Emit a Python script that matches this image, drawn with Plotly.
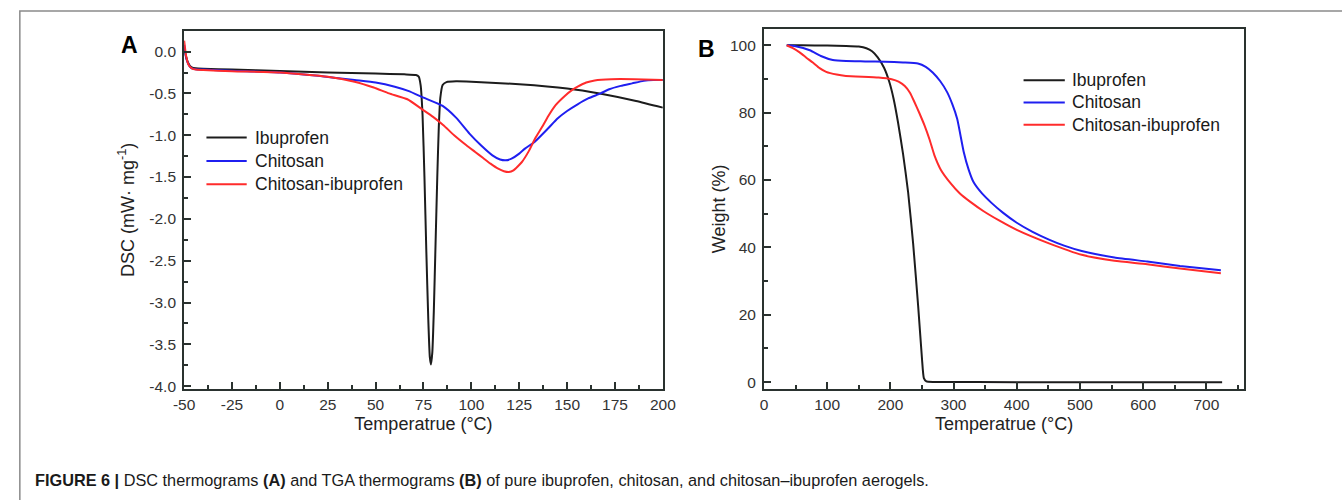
import plotly.graph_objects as go

W_PX, H_PX = 1342, 500

# ---------------- Panel A: DSC ----------------
dsc_T_ibu = [-50, -49, -48, -47, -46, -44, -40, -25, 0, 25, 50, 65, 71, 72.5, 73.5, 74.5,
             75.5, 76.5, 77.5, 78.3, 78.9, 79.6, 80.4, 81.3, 82.2, 83, 83.8, 85, 87, 92,
             100, 125, 150, 167, 186, 200]
dsc_ibu = [0.05, -0.06, -0.13, -0.17, -0.19, -0.2, -0.205, -0.215, -0.233, -0.25, -0.262,
           -0.272, -0.28, -0.3, -0.4, -0.75, -1.5, -2.4, -3.2, -3.65, -3.74, -3.6, -3.1,
           -2.3, -1.5, -0.9, -0.55, -0.4, -0.365, -0.355, -0.36, -0.39, -0.44, -0.5,
           -0.59, -0.67]

dsc_T_chi = [-50, -49, -48, -47, -46, -44, -40, -25, 0, 20, 39, 50, 60, 67, 75, 85, 92,
             99, 105, 111, 115, 118, 121, 125, 128, 133, 140, 145, 150, 155.5, 161,
             167.5, 172, 178, 184, 190, 195, 200]
dsc_chi = [0.08, -0.07, -0.14, -0.18, -0.2, -0.21, -0.215, -0.23, -0.25, -0.29, -0.34,
           -0.37, -0.42, -0.47, -0.55, -0.65, -0.79, -0.98, -1.12, -1.24, -1.29, -1.30,
           -1.28, -1.22, -1.16, -1.08, -0.92, -0.80, -0.71, -0.63, -0.56, -0.50, -0.45,
           -0.41, -0.38, -0.35, -0.34, -0.34]

dsc_T_mix = [-50, -49, -48, -47, -46, -44, -40, -25, 0, 25, 39, 49, 57, 66.6, 74.3, 80,
             85.4, 91, 97.4, 102, 106, 110, 114, 117, 119.6, 122, 126.4, 130, 133.3, 137,
             140.2, 144, 148.8, 152, 155.5, 160, 164.4, 173, 185, 200]
dsc_mix = [0.13, -0.05, -0.14, -0.18, -0.2, -0.215, -0.22, -0.235, -0.25, -0.3, -0.36,
           -0.43, -0.5, -0.57, -0.69, -0.78, -0.88, -1.0, -1.12, -1.2, -1.27, -1.34,
           -1.4, -1.43, -1.44, -1.42, -1.32, -1.19, -1.04, -0.9, -0.77, -0.64, -0.53,
           -0.47, -0.42, -0.37, -0.345, -0.33, -0.33, -0.34]

# ---------------- Panel B: TGA ----------------
tga_T_ibu = [36, 60, 100, 130, 150, 162, 171, 180, 190, 198, 205, 212, 220, 228, 236,
             244, 250, 253, 257, 270, 400, 550, 725]
tga_ibu = [100, 100, 99.9, 99.8, 99.6, 99.1, 98.2, 96.4, 93.3, 89.3, 84.2, 77.2, 67.8,
           56.5, 41.2, 22.5, 7.0, 1.2, 0.2, 0.05, 0, 0, 0]

tga_T_chi = [36, 50, 72.5, 90, 108.9, 130, 160, 191.8, 220, 243.6, 256, 267, 279, 290,
             298, 305.8, 316, 324, 331.8, 345, 360, 378, 400, 425, 451, 475, 502.8,
             554.6, 606.5, 658.3, 723]
tga_chi = [100, 99.7, 98.5, 96.8, 95.6, 95.3, 95.2, 95.1, 94.9, 94.6, 93.6, 91.9, 89.3,
           86, 82.5, 78.1, 68.4, 63.0, 59.3, 56.0, 53.2, 50.3, 47.3, 44.6, 42.3, 40.5,
           38.9, 37.0, 35.8, 34.5, 33.2]

tga_T_mix = [36, 45, 57, 67, 77.8, 88, 98.4, 115, 129.6, 181.3, 202, 213, 222.8, 231,
             238.4, 246, 254, 262, 269.6, 280, 295.5, 310, 326.6, 347, 372, 400, 451,
             502.8, 554.6, 606.5, 658.3, 723]
tga_mix = [100, 99.2, 97.8, 96.3, 94.8, 93.2, 92.1, 91.3, 90.9, 90.4, 89.9, 89.2, 87.9,
           85.9, 83, 79.8, 76.2, 72, 67.4, 63, 59.0, 56.0, 53.5, 50.8, 48.0, 45.2, 41.2,
           37.8, 36, 35, 33.7, 32.3]

series_names = ["Ibuprofen", "Chitosan", "Chitosan-ibuprofen"]
series_colors = ["#1c1c1c", "#1f1ff0", "#ff2b2b"]

# tick labels
dsc_xticks = [-50, -25, 0, 25, 50, 75, 100, 125, 150, 175, 200]
dsc_yticks = [-4.0, -3.5, -3.0, -2.5, -2.0, -1.5, -1.0, -0.5, 0.0]
dsc_yticklabels = ["-4.0", "-3.5", "-3.0", "-2.5", "-2.0", "-1.5", "-1.0", "-0.5", "0.0"]
dsc_xticklabels = ["-50", "-25", "0", "25", "50", "75", "100", "125", "150", "175", "200"]
tga_xticks = [0, 100, 200, 300, 400, 500, 600, 700]
tga_yticks = [0, 20, 40, 60, 80, 100]

caption = ("<b>FIGURE 6 |</b> DSC thermograms <b>(A)</b> and TGA thermograms <b>(B)</b> "
           "of pure ibuprofen, chitosan, and chitosan–ibuprofen aerogels.")

FONT = "Liberation Sans, Arial, sans-serif"
AXIS_COLOR = "#2a322f"

fig = go.Figure()

dsc_sets = [(dsc_T_ibu, dsc_ibu), (dsc_T_chi, dsc_chi), (dsc_T_mix, dsc_mix)]
tga_sets = [(tga_T_ibu, tga_ibu), (tga_T_chi, tga_chi), (tga_T_mix, tga_mix)]

for (xs, ys), name, col in zip(dsc_sets, series_names, series_colors):
    fig.add_trace(go.Scatter(x=xs, y=ys, mode="lines", name=name, showlegend=False,
                             line=dict(color=col, width=2, shape="spline", smoothing=0.5),
                             xaxis="x", yaxis="y"))
for (xs, ys), name, col in zip(tga_sets, series_names, series_colors):
    fig.add_trace(go.Scatter(x=xs, y=ys, mode="lines", name=name, showlegend=False,
                             line=dict(color=col, width=2, shape="spline", smoothing=0.5),
                             xaxis="x2", yaxis="y2"))


def px_x(p):
    return p / W_PX


def px_y(p):
    return 1 - p / H_PX


axis_common = dict(showgrid=False, zeroline=False, showline=True, linecolor=AXIS_COLOR,
                   linewidth=2, mirror=True, ticks="inside", ticklen=7, tickwidth=2,
                   tickcolor=AXIS_COLOR, tickfont=dict(family=FONT, size=15.5, color="#333333"),
                   title_font=dict(family=FONT, size=18, color="#222222"))

fig.update_layout(
    width=W_PX, height=H_PX,
    margin=dict(l=0, r=0, t=0, b=0),
    paper_bgcolor="white", plot_bgcolor="white",
    font=dict(family=FONT, color="#222222"),
    showlegend=False,
    xaxis=dict(domain=[px_x(176.3), px_x(663.7)], range=[-50, 200], anchor="y",
               tickvals=dsc_xticks, ticktext=dsc_xticklabels,
               minor=dict(dtick=12.5, ticks="inside", ticklen=4, tickwidth=2, tickcolor=AXIS_COLOR),
               title=dict(text="Temperatrue (°C)", standoff=6), **axis_common),
    yaxis=dict(domain=[px_y(393), px_y(31)], range=[-4.035, 0.25], anchor="x",
               tickvals=dsc_yticks, ticktext=dsc_yticklabels, ticklabelstandoff=3,
               minor=dict(dtick=0.25, ticks="inside", ticklen=4, tickwidth=2, tickcolor=AXIS_COLOR),
               title=dict(text="DSC (mW· mg<sup>-1</sup>)", standoff=10), **axis_common),
    xaxis2=dict(domain=[px_x(766.7), px_x(1255.7)], range=[0, 760], anchor="y2",
                tickvals=tga_xticks,
                minor=dict(dtick=50, ticks="inside", ticklen=4, tickwidth=2, tickcolor=AXIS_COLOR),
                title=dict(text="Temperatrue (°C)", standoff=6), **axis_common),
    yaxis2=dict(domain=[px_y(393), px_y(29)], range=[-2.06, 104.9], anchor="x2",
                tickvals=tga_yticks, ticklabelstandoff=3,
                minor=dict(dtick=10, ticks="inside", ticklen=4, tickwidth=2, tickcolor=AXIS_COLOR),
                title=dict(text="Weight (%)", standoff=0), **axis_common),
)

# legends drawn as key lines + labels (one block per panel)
legend_blocks = [
    dict(x0=199, x1=240, tx=246, rows=[139, 162.5, 186]),
    dict(x0=1031, x1=1073, tx=1078, rows=[81, 103.5, 126]),
]
for blk in legend_blocks:
    for name, col, ry in zip(series_names, series_colors, blk["rows"]):
        fig.add_shape(type="line", xref="paper", yref="paper",
                      x0=px_x(blk["x0"]), x1=px_x(blk["x1"]), y0=px_y(ry), y1=px_y(ry),
                      line=dict(color=col, width=2))
        fig.add_annotation(text=name, x=px_x(blk["tx"]), y=px_y(ry), xref="paper", yref="paper",
                           xanchor="left", yanchor="middle", showarrow=False,
                           font=dict(family=FONT, size=17.5, color="#1a1a1a"))

# panel letters
fig.add_annotation(text="<b>A</b>", x=px_x(121), y=px_y(45), xref="paper", yref="paper",
                   xanchor="center", yanchor="middle", showarrow=False,
                   font=dict(family=FONT, size=23, color="black"))
fig.add_annotation(text="<b>B</b>", x=px_x(708), y=px_y(49), xref="paper", yref="paper",
                   xanchor="center", yanchor="middle", showarrow=False,
                   font=dict(family=FONT, size=23, color="black"))

# caption
fig.add_annotation(text=caption, x=px_x(22), y=px_y(485), xref="paper", yref="paper",
                   xanchor="left", yanchor="middle", showarrow=False,
                   font=dict(family=FONT, size=16.3, color="#1a1a1a"))

# outer frame of the figure box
fig.add_shape(type="rect", xref="paper", yref="paper", x0=px_x(9), x1=1.02,
              y0=-0.05, y1=px_y(11), line=dict(color="#8a8a8a", width=1.5),
              fillcolor="rgba(0,0,0,0)", layer="below")

fig.write_html("out.html", config={"displayModeBar": False},
               post_script="document.body.style.margin='0px';document.body.style.overflow='hidden';")
